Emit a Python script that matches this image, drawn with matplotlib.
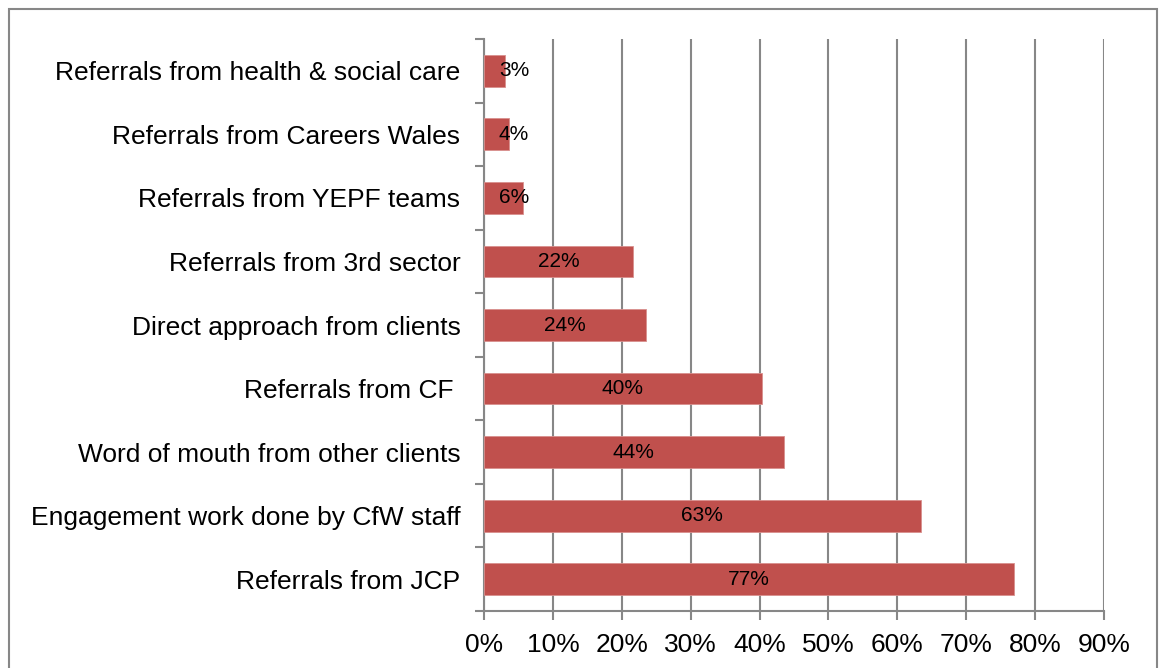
import numpy as np
import matplotlib
matplotlib.use('Agg')
import matplotlib.pyplot as plt
from matplotlib.patches import Rectangle
from matplotlib.ticker import FixedLocator

plt.rcParams['font.family'] = ['Liberation Sans', 'DejaVu Sans']

# sources of client referrals, bottom to top
categories = ['Referrals from JCP',
              'Engagement work done by CfW staff',
              'Word of mouth from other clients',
              'Referrals from CF ',
              'Direct approach from clients',
              'Referrals from 3rd sector',
              'Referrals from YEPF teams',
              'Referrals from Careers Wales',
              'Referrals from health & social care']
shares = [76.9, 63.4, 43.5, 40.3, 23.5, 21.7, 5.6, 3.6, 3.1]
x_ticks = [0, 10, 20, 30, 40, 50, 60, 70, 80, 90]

bar_col = '#C0504D'
grey = '#878787'

fig = plt.figure(figsize=(11.59, 6.68), dpi=100)
ax = fig.add_axes([0.4176, 0.0853, 0.5349, 0.8563])

y = np.arange(len(categories))
ax.barh(y, shares, height=0.5, color=bar_col, edgecolor='#D9908E', linewidth=0.6, zorder=3)

# value labels, kept clear of the axis for very short bars
for yi, v in zip(y, shares):
    ax.text(max(v / 2, 4.35), yi, '%.0f%%' % v, ha='center', va='center',
            fontsize=15, color='black', zorder=4)

ax.set_xlim(0, 90)
ax.set_ylim(-0.5, len(categories) - 0.5)
ax.set_xticks(x_ticks)
ax.set_xticklabels(['%d%%' % t for t in x_ticks], fontsize=19)
ax.xaxis.grid(True, color=grey, linewidth=1.5, zorder=0)
ax.set_axisbelow(True)

ax.set_yticks(y)
ax.set_yticklabels(categories, fontsize=19)
ax.yaxis.set_minor_locator(FixedLocator(np.arange(-0.5, len(categories), 1.0)))
ax.tick_params(axis='y', which='major', length=0, pad=17)
ax.tick_params(axis='y', which='minor', length=6.5, width=1.5, color=grey)
ax.tick_params(axis='x', length=6.5, width=1.5, color=grey, pad=9)

for side in ['top', 'right']:
    ax.spines[side].set_visible(False)
for side in ['left', 'bottom']:
    ax.spines[side].set_color(grey)
    ax.spines[side].set_linewidth(1.5)

# outer chart frame
fig.patches.append(Rectangle((0.0075, -0.02), 0.991, 1.006, transform=fig.transFigure,
                             fill=False, edgecolor=grey, linewidth=1.5))

fig.savefig('out.png', dpi=100)
